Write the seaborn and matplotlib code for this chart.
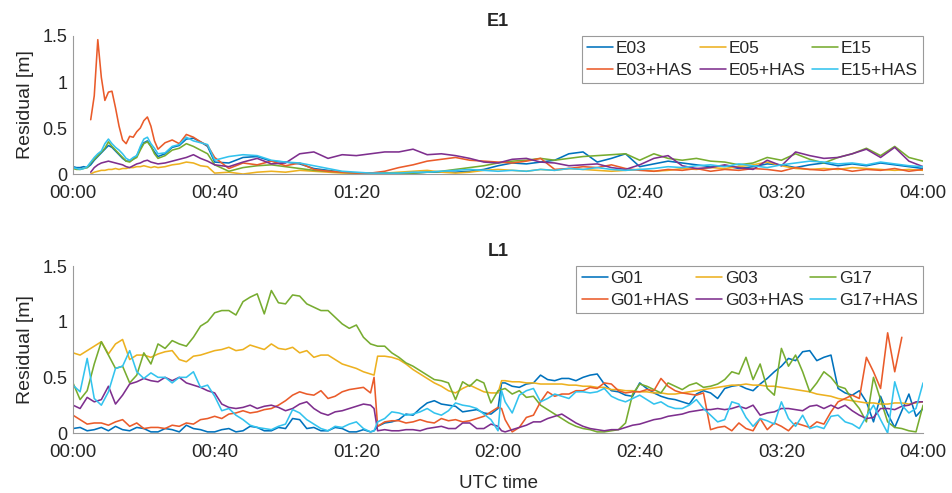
import numpy as np
import pandas as pd
import matplotlib
matplotlib.use("Agg")
import matplotlib.pyplot as plt
import seaborn as sns

sns.set_theme(style="white")
plt.rcParams['font.family'] = ['Liberation Sans', 'DejaVu Sans']

nan = np.nan

# ---------------- sampling times (minutes after 00:00 UTC) ----------------
t_e1 = np.r_[np.arange(0, 25, 1), np.arange(26, 41, 2), np.arange(44, 241, 4)]
t_l1 = np.r_[np.arange(0, 85, 2), [85, 86], np.arange(88, 121, 2), [121],
             np.arange(122, 241, 2)]

# ---------------- Galileo E1 residuals [m] ----------------
e03 = [0.08, 0.07, 0.07, 0.08, 0.07, 0.10, 0.15, 0.19, 0.23, 0.27, 0.31, 0.29, 0.25,
       0.21, 0.17, 0.14, 0.14, 0.16, 0.20, 0.28, 0.34, 0.36, 0.30, 0.24, 0.19,
       0.22, 0.29, 0.31, 0.38, 0.39, 0.35, 0.30, 0.13,
       0.12, 0.18, 0.19, 0.14, 0.13, 0.11, 0.06, 0.04, 0.02, 0.01, 0.01, 0.01, 0.01,
       0.01, 0.02, 0.02, 0.02, 0.03, 0.05, 0.09, 0.12, 0.11, 0.13, 0.15, 0.22, 0.24,
       0.13, 0.17, 0.22, 0.08, 0.11, 0.14, 0.12, 0.10, 0.08, 0.09, 0.06, 0.08, 0.11,
       0.10, 0.07, 0.10, 0.12, 0.09, 0.11, 0.09, 0.12, 0.10, 0.08, 0.06]
e05 = [nan, nan, nan, nan, nan, 0.00, 0.02, 0.03, 0.04, 0.04, 0.05, 0.05, 0.06,
       0.05, 0.06, 0.06, 0.07, 0.07, 0.08, 0.08, 0.09, 0.08, 0.07, 0.08, 0.07,
       0.08, 0.10, 0.11, 0.13, 0.12, 0.09, 0.08, 0.01,
       0.02, 0.00, 0.02, 0.03, 0.02, 0.04, 0.03, 0.02, 0.01, 0.01, 0.00, 0.01, 0.02,
       0.03, 0.04, 0.02, 0.01, 0.02, 0.04, 0.05, 0.04, 0.03, 0.05, 0.04, 0.06, 0.05,
       0.04, 0.03, 0.04, 0.05, 0.03, 0.04, 0.06, 0.05, 0.07, 0.06, 0.08, 0.10, 0.13,
       0.09, 0.06, 0.05, 0.06, 0.05, 0.07, 0.06, 0.05, 0.04, 0.05, 0.04]
e15 = [0.06, 0.05, 0.05, 0.06, 0.07, 0.12, 0.16, 0.20, 0.24, 0.28, 0.35, 0.30, 0.26,
       0.22, 0.18, 0.14, 0.13, 0.16, 0.18, 0.26, 0.33, 0.35, 0.30, 0.22, 0.17,
       0.20, 0.26, 0.28, 0.33, 0.30, 0.26, 0.22, 0.10,
       0.03, 0.07, 0.09, 0.10, 0.08, 0.06, 0.04, 0.03, 0.02, 0.01, 0.01, 0.01, 0.01,
       0.01, 0.02, 0.03, 0.05, 0.07, 0.09, 0.12, 0.14, 0.15, 0.17, 0.15, 0.17, 0.19,
       0.20, 0.21, 0.22, 0.15, 0.22, 0.17, 0.15, 0.17, 0.14, 0.13, 0.10, 0.12, 0.18,
       0.15, 0.22, 0.16, 0.12, 0.18, 0.22, 0.28, 0.20, 0.30, 0.18, 0.14]
e03_has = [nan, nan, nan, nan, nan, 0.59, 0.85, 1.46, 1.05, 0.80, 0.89, 0.90, 0.72,
           0.52, 0.37, 0.33, 0.41, 0.40, 0.46, 0.50, 0.58, 0.62, 0.52, 0.36, 0.27,
           0.34, 0.37, 0.33, 0.43, 0.40, 0.35, 0.31, 0.18,
           0.06, 0.12, 0.10, 0.14, 0.09, 0.12, 0.05, 0.03, 0.02, 0.01, 0.01, 0.03, 0.07,
           0.10, 0.14, 0.16, 0.18, 0.15, 0.14, 0.13, 0.12, 0.14, 0.17, 0.05, 0.06, 0.08,
           0.07, 0.10, 0.06, 0.04, 0.03, 0.05, 0.04, 0.06, 0.03, 0.05, 0.04, 0.06, 0.05,
           0.03, 0.07, 0.05, 0.04, 0.06, 0.03, 0.05, 0.04, 0.06, 0.03, 0.05]
e05_has = [nan, nan, nan, nan, nan, 0.02, 0.07, 0.10, 0.12, 0.13, 0.14, 0.13, 0.12,
           0.11, 0.10, 0.08, 0.07, 0.09, 0.11, 0.12, 0.14, 0.15, 0.13, 0.12, 0.11,
           0.12, 0.14, 0.16, 0.18, 0.21, 0.17, 0.14, 0.10,
           0.08, 0.13, 0.17, 0.11, 0.12, 0.22, 0.24, 0.17, 0.21, 0.20, 0.22, 0.24, 0.24,
           0.27, 0.21, 0.22, 0.20, 0.17, 0.13, 0.12, 0.16, 0.17, 0.13, 0.12, 0.09, 0.10,
           0.11, 0.07, 0.05, 0.10, 0.17, 0.20, 0.09, 0.06, 0.07, 0.10, 0.07, 0.05, 0.15,
           0.09, 0.24, 0.20, 0.17, 0.18, 0.22, 0.27, 0.18, 0.29, 0.14, 0.08]
e15_has = [0.07, 0.06, 0.05, 0.06, 0.08, 0.13, 0.18, 0.22, 0.25, 0.33, 0.38, 0.33, 0.29,
           0.26, 0.22, 0.17, 0.15, 0.18, 0.20, 0.30, 0.38, 0.40, 0.33, 0.28, 0.22,
           0.23, 0.30, 0.32, 0.40, 0.36, 0.34, 0.32, 0.15,
           0.19, 0.21, 0.20, 0.15, 0.13, 0.12, 0.09, 0.06, 0.03, 0.02, 0.01, 0.01, 0.01,
           0.02, 0.02, 0.03, 0.04, 0.05, 0.04, 0.03, 0.04, 0.03, 0.05, 0.04, 0.06, 0.05,
           0.07, 0.05, 0.04, 0.05, 0.06, 0.08, 0.07, 0.09, 0.10, 0.08, 0.11, 0.09, 0.07,
           0.10, 0.12, 0.14, 0.13, 0.11, 0.12, 0.10, 0.13, 0.11, 0.09, 0.08]

# ---------------- GPS L1 residuals [m] ----------------
g01 = [0.04, 0.05, 0.02, 0.03, 0.05, 0.02, 0.06, 0.03, 0.02, 0.05,
       0.04, 0.01, 0.01, 0.04, 0.03, 0.01, 0.07, 0.04, 0.03, 0.01,
       0.01, 0.03, 0.04, 0.01, 0.02, 0.06, 0.05, 0.02, 0.02, 0.05,
       0.04, 0.13, 0.12, 0.04, 0.05, 0.02, 0.02, 0.05, 0.04, 0.01,
       0.01, 0.03, 0.01,
       0.02, 0.06,
       0.09, 0.10, 0.12, 0.17, 0.16, 0.22, 0.27, 0.29, 0.26, 0.25, 0.24, 0.19, 0.20,
       0.21, 0.18, 0.17, 0.22,
       0.45,
       0.45, 0.42, 0.41, 0.44, 0.45, 0.52, 0.48, 0.47, 0.49, 0.49,
       0.47, 0.50, 0.52, 0.53, 0.44, 0.38, 0.37, 0.34, 0.33, 0.45,
       0.40, 0.36, 0.33, 0.31, 0.30, 0.28, 0.26, 0.35, 0.38, 0.36,
       0.31, 0.40, 0.42, 0.43, 0.40, 0.38, 0.44, 0.49, 0.55, 0.60,
       0.67, 0.65, 0.73, 0.74, 0.65, 0.68, 0.70, 0.40, 0.36, 0.34,
       0.38, 0.28, 0.10, 0.33, 0.17, 0.05, 0.20, 0.35, 0.15, 0.22]
g03 = [0.72, 0.70, 0.74, 0.78, 0.82, 0.71, 0.80, 0.84, 0.66, 0.70,
       0.70, 0.68, 0.71, 0.73, 0.74, 0.66, 0.64, 0.69, 0.70, 0.72,
       0.74, 0.75, 0.77, 0.74, 0.75, 0.79, 0.77, 0.75, 0.80, 0.76,
       0.75, 0.77, 0.72, 0.74, 0.68, 0.70, 0.70, 0.66, 0.62, 0.60,
       0.58, 0.55, 0.53,
       0.52, 0.69,
       0.69, 0.68, 0.66, 0.62, 0.57, 0.53, 0.49, 0.45, 0.42, 0.38, 0.36, 0.40, 0.43,
       0.40, 0.37, 0.36, 0.36,
       0.47,
       0.47, 0.46, 0.46, 0.45, 0.45, 0.44, 0.44, 0.44, 0.44, 0.43,
       0.43, 0.42, 0.42, 0.41, 0.41, 0.39, 0.39, 0.38, 0.38, 0.37,
       0.37, 0.36, 0.36, 0.35, 0.35, 0.36, 0.37, 0.38, 0.39, 0.40,
       0.41, 0.42, 0.43, 0.43, 0.44, 0.43, 0.43, 0.42, 0.42, 0.41,
       0.40, 0.39, 0.38, 0.37, 0.35, 0.34, 0.33, 0.31, 0.30, 0.29,
       0.28, 0.27, 0.27, 0.26, 0.26, 0.27, 0.27, 0.26, 0.27, 0.28]
g17 = [0.45, 0.30, 0.38, 0.62, 0.82, 0.70, 0.58, 0.60, 0.45, 0.52,
       0.72, 0.62, 0.80, 0.76, 0.83, 0.80, 0.78, 0.86, 0.96, 1.00,
       1.08, 1.10, 1.10, 1.06, 1.18, 1.22, 1.25, 1.07, 1.28, 1.17,
       1.16, 1.24, 1.23, 1.16, 1.13, 1.10, 1.10, 1.04, 0.98, 0.94,
       0.97, 0.86, 0.80,
       0.79, 0.78,
       0.78, 0.72, 0.68, 0.63, 0.60, 0.56, 0.52, 0.48, 0.47, 0.45, 0.30, 0.46, 0.42,
       0.48, 0.45, 0.27, 0.38,
       0.39,
       0.40, 0.35, 0.38, 0.32, 0.33, 0.25, 0.21, 0.17, 0.13, 0.09,
       0.06, 0.04, 0.03, 0.01, 0.01, 0.02, 0.03, 0.09, 0.35, 0.44,
       0.42, 0.39, 0.36, 0.45, 0.42, 0.39, 0.43, 0.45, 0.41, 0.42,
       0.44, 0.48, 0.55, 0.53, 0.68, 0.48, 0.62, 0.40, 0.34, 0.76,
       0.60, 0.70, 0.55, 0.37, 0.45, 0.55, 0.50, 0.42, 0.40, 0.30,
       0.22, 0.10, 0.50, 0.30, 0.10, 0.05, 0.04, 0.02, 0.01, 0.25]
g01_has = [0.16, 0.12, 0.08, 0.09, 0.09, 0.07, 0.10, 0.12, 0.06, 0.09,
           0.04, 0.05, 0.05, 0.04, 0.07, 0.06, 0.09, 0.08, 0.12, 0.13,
           0.15, 0.13, 0.17, 0.18, 0.20, 0.18, 0.19, 0.21, 0.22, 0.25,
           0.29, 0.34, 0.37, 0.35, 0.34, 0.38, 0.31, 0.33, 0.37, 0.39,
           0.40, 0.41, 0.36,
           0.50, 0.06,
           0.10, 0.11, 0.11, 0.09, 0.10, 0.12, 0.10, 0.09, 0.13, 0.11, 0.12, 0.10, 0.11,
           0.13, 0.15, 0.19, 0.23,
           0.22,
           0.12, 0.01, 0.05, 0.14, 0.16, 0.28, 0.37, 0.33, 0.35, 0.35,
           0.38, 0.38, 0.41, 0.40, 0.45, 0.44, 0.38, 0.36, 0.37, 0.37,
           0.39, 0.38, 0.49, 0.42, 0.38, 0.36, 0.35, 0.34, 0.36, 0.03,
           0.05, 0.06, 0.02, 0.09, 0.04, 0.02, 0.13, 0.03, 0.09, 0.06,
           0.02, 0.09, 0.07, 0.05, 0.10, 0.08, 0.19, 0.28, 0.31, 0.34,
           0.31, 0.68, 0.55, 0.40, 0.90, 0.55, 0.86, nan, nan, nan]
g03_has = [0.25, 0.22, 0.32, 0.28, 0.30, 0.42, 0.26, 0.34, 0.44, 0.46,
           0.49, 0.47, 0.46, 0.50, 0.47, 0.50, 0.45, 0.43, 0.41, 0.38,
           0.36, 0.26, 0.23, 0.22, 0.23, 0.25, 0.22, 0.24, 0.25, 0.23,
           0.20, 0.22, 0.26, 0.28, 0.22, 0.18, 0.16, 0.19, 0.20, 0.22,
           0.24, 0.26, 0.25,
           0.22, 0.02,
           0.03, 0.02, 0.02, 0.03, 0.03, 0.02, 0.04, 0.05, 0.06, 0.04, 0.04, 0.09, 0.09,
           0.04, 0.04, 0.08, 0.06,
           0.02,
           0.01, 0.03, 0.05, 0.07, 0.10, 0.10, 0.13, 0.15, 0.17, 0.13,
           0.09, 0.06, 0.04, 0.03, 0.02, 0.03, 0.03, 0.05, 0.07, 0.08,
           0.10, 0.12, 0.13, 0.15, 0.16, 0.17, 0.19, 0.20, 0.21, 0.21,
           0.22, 0.21, 0.22, 0.24, 0.22, 0.25, 0.16, 0.18, 0.19, 0.22,
           0.22, 0.21, 0.20, 0.24, 0.25, 0.22, 0.25, 0.22, 0.25, 0.20,
           0.16, 0.13, 0.14, 0.22, 0.22, 0.21, 0.24, 0.25, 0.28, 0.28]
g17_has = [0.43, 0.37, 0.67, 0.31, 0.25, 0.37, 0.58, 0.60, 0.74, 0.55,
           0.49, 0.54, 0.50, 0.50, 0.45, 0.50, 0.50, 0.55, 0.41, 0.43,
           0.33, 0.20, 0.22, 0.16, 0.12, 0.07, 0.05, 0.04, 0.03, 0.06,
           0.08, 0.21, 0.18, 0.12, 0.08, 0.04, 0.02, 0.06, 0.05, 0.08,
           0.10, 0.04, 0.01,
           0.02, 0.10,
           0.13, 0.19, 0.18, 0.16, 0.17, 0.19, 0.22, 0.18, 0.16, 0.20, 0.27, 0.25, 0.24,
           0.22, 0.17, 0.12, 0.02,
           0.38,
           0.28, 0.18, 0.34, 0.38, 0.40, 0.28, 0.31, 0.35, 0.33, 0.31,
           0.37, 0.37, 0.36, 0.37, 0.40, 0.33, 0.30, 0.28, 0.31, 0.34,
           0.30, 0.26, 0.28, 0.24, 0.22, 0.22, 0.25, 0.30, 0.22, 0.16,
           0.10, 0.12, 0.28, 0.26, 0.14, 0.06, 0.13, 0.11, 0.08, 0.28,
           0.13, 0.06, 0.16, 0.04, 0.06, 0.04, 0.15, 0.16, 0.10, 0.08,
           0.04, 0.15, 0.25, 0.12, 0.00, 0.46, 0.25, 0.18, 0.22, 0.45]

e1_names = ['E03', 'E05', 'E15', 'E03+HAS', 'E05+HAS', 'E15+HAS']
e1_values = [e03, e05, e15, e03_has, e05_has, e15_has]
l1_names = ['G01', 'G03', 'G17', 'G01+HAS', 'G03+HAS', 'G17+HAS']
l1_values = [g01, g03, g17, g01_has, g03_has, g17_has]

tick_minutes = [0, 40, 80, 120, 160, 200, 240]
tick_labels = ['00:00', '00:40', '01:20', '02:00', '02:40', '03:20', '04:00']
y_ticks = [0, 0.5, 1, 1.5]
y_labels = ['0', '0.5', '1', '1.5']

colors_e1 = ['#0072BD', '#EDB120', '#77AC30', '#EA5B2A', '#7E2F8E', '#33C3EE']
colors_l1 = ['#0072BD', '#EDB120', '#77AC30', '#EA5B2A', '#7E2F8E', '#33C3EE']

TXT = '#262626'
AX = '#9a9a9a'


def draw_panel(ax, t, names, values, colors, title):
    frames = [pd.DataFrame({'t': t, 'res': np.asarray(v, dtype=float), 'sig': n})
              for n, v in zip(names, values)]
    df = pd.concat(frames, ignore_index=True).dropna()
    sns.lineplot(data=df, x='t', y='res', hue='sig', hue_order=names,
                 palette=dict(zip(names, colors)), estimator=None, sort=False,
                 lw=1.15, legend=False, ax=ax)
    ax.set_xlim(0, 240)
    ax.set_ylim(0, 1.5)
    ax.set_xticks(tick_minutes)
    ax.set_xticklabels(tick_labels)
    ax.set_yticks(y_ticks)
    ax.set_yticklabels(y_labels)
    ax.set_xlabel('')
    ax.set_ylabel('Residual [m]', fontsize=14, color=TXT, labelpad=6)
    ax.set_title(title, fontsize=13, fontweight='bold', color=TXT, pad=7)
    ax.tick_params(axis='both', direction='in', length=4, width=0.8,
                   colors=AX, labelcolor=TXT, labelsize=13.5)
    ax.tick_params(axis='x', pad=8)
    ax.tick_params(axis='y', pad=4, labelsize=13)
    for side in ('top', 'right'):
        ax.spines[side].set_visible(False)
    for side in ('left', 'bottom'):
        ax.spines[side].set_color(AX)
        ax.spines[side].set_linewidth(0.8)
    # legend laid out in three columns: plain signal on top, +HAS below
    lines = ax.get_lines()
    order = [0, 3, 1, 4, 2, 5]
    leg = ax.legend([lines[i] for i in order], [names[i] for i in order],
                    ncol=3, loc='upper right', bbox_to_anchor=(1.0, 1.0),
                    fontsize=12.5, frameon=True, fancybox=False,
                    edgecolor=AX, framealpha=1, handlelength=1.5,
                    handletextpad=0.15, columnspacing=0.4, borderpad=0.3,
                    labelspacing=0.35, borderaxespad=0.0)
    leg.get_frame().set_linewidth(0.8)
    for txt in leg.get_texts():
        txt.set_color(TXT)


fig = plt.figure(figsize=(9.53, 4.93), dpi=100)
ax1 = fig.add_axes([0.0766, 0.647, 0.892, 0.280])
ax2 = fig.add_axes([0.0766, 0.1217, 0.892, 0.3387])

draw_panel(ax1, t_e1, e1_names, e1_values, colors_e1, 'E1')
draw_panel(ax2, t_l1, l1_names, l1_values, colors_l1, 'L1')
ax2.set_xlabel('UTC time', fontsize=13.5, color=TXT, labelpad=10)

fig.savefig('out.png', dpi=100, facecolor='white')
